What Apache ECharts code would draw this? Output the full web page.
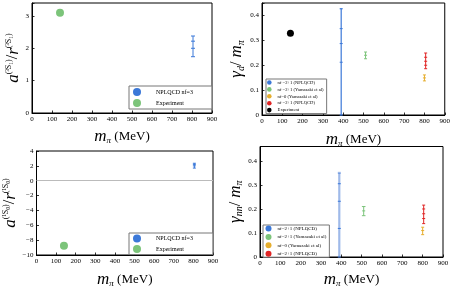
<!DOCTYPE html>
<html><head><meta charset="utf-8">
<script src="https://cdn.jsdelivr.net/npm/echarts@6/dist/echarts.min.js"></script>
<style>html,body{margin:0;padding:0;background:#fff}#c{width:453px;height:289px}</style>
</head><body><div id="c"></div>
<script>
// ---- data ----
const xTickStep = 100; // m_pi ticks 0..900
// Panel 1: a(3S1)/r(3S1)
const p1Exp = [[140, 3.1]];
const p1Lat = [[805, 1.74, 2.38]];            // x, low, high
const p1LatMarks = [[805, 2.22], [805, 2.0]];
// Panel 2: gamma_d / m_pi
const p2Exp = [[140, 0.328]];
const p2NplBlue = [[390, 0, 0.427]];
const p2NplBlueMarks = [[390, 0.347], [390, 0.287], [390, 0.212]];
const p2Yam21 = [[510, 0.226, 0.253]];
const p2Yam21Marks = [[510, 0.24]];
const p2Yam0 = [[800, 0.137, 0.161]];
const p2Yam0Marks = [[800, 0.149]];
const p2NplRed = [[806, 0.186, 0.249]];
const p2NplRedMarks = [[806, 0.232], [806, 0.216], [806, 0.2]];
// Panel 3: a(1S0)/r(1S0)
const p3Exp = [[140, -8.75]];
const p3Lat = [[805, 1.7, 2.35]];
const p3LatMarks = [[805, 2.2], [805, 2.0]];
// Panel 4: gamma_nn / m_pi
const p4NplBlue = [[390, 0, 0.35]];
const p4NplBlueMarks = [[390, 0.305], [390, 0.232], [390, 0.119]];
const p4Yam21 = [[510, 0.172, 0.21]];
const p4Yam21Marks = [[510, 0.192]];
const p4Yam0 = [[800, 0.093, 0.124]];
const p4Yam0Marks = [[800, 0.11]];
const p4NplRed = [[805, 0.139, 0.216]];
const p4NplRedMarks = [[805, 0.2], [805, 0.18], [805, 0.16]];

const BLUE = '#3b78d8', GREEN = '#7cc47a', ORANGE = '#e6ae2e', RED = '#e02424', BLACK = '#000';
const SERIF = 'Liberation Serif';

function errBar(capW, lw) {
  return function (params, api) {
    const x = api.value(0), lo = api.value(1), hi = api.value(2);
    const a = api.coord([x, lo]), b = api.coord([x, hi]);
    const st = { stroke: api.visual('color'), lineWidth: lw };
    return { type: 'group', children: [
      { type: 'line', shape: { x1: a[0], y1: a[1], x2: b[0], y2: b[1] }, style: st },
      { type: 'line', shape: { x1: a[0] - capW, y1: a[1], x2: a[0] + capW, y2: a[1] }, style: st },
      { type: 'line', shape: { x1: b[0] - capW, y1: b[1], x2: b[0] + capW, y2: b[1] }, style: st }
    ] };
  };
}
function markTick(capW, lw) {
  return function (params, api) {
    const p = api.coord([api.value(0), api.value(1)]);
    return { type: 'line', shape: { x1: p[0] - capW, y1: p[1], x2: p[0] + capW, y2: p[1] },
      style: { stroke: api.visual('color'), lineWidth: lw } };
  };
}
function bars(name, idx, data, color, lw, cap) {
  return { name, type: 'custom', xAxisIndex: idx, yAxisIndex: idx, data, itemStyle: { color },
    renderItem: errBar(cap || 2, lw || 1), encode: { x: 0, y: [1, 2] }, silent: true };
}
function marks(name, idx, data, color, lw, cap) {
  return { name, type: 'custom', xAxisIndex: idx, yAxisIndex: idx, data, itemStyle: { color },
    renderItem: markTick(cap || 2, lw || 1), encode: { x: 0, y: 1 }, silent: true };
}
function dot(name, idx, data, color, size) {
  return { name, type: 'scatter', xAxisIndex: idx, yAxisIndex: idx, data, symbolSize: size,
    itemStyle: { color, opacity: 1 }, silent: true };
}
function fmtTicks(step, minus) {
  return function (v) {
    const k = v / step;
    if (Math.abs(k - Math.round(k)) > 1e-6) return '';
    let r = Math.round(k) * step;
    r = +r.toFixed(6);
    let s = String(r);
    if (minus) s = s.replace('-', '\u2212');
    return s;
  };
}
const xName = '{m|m}{s|π} {t|(MeV)}';
const xRich = {
  m: { fontFamily: SERIF, fontStyle: 'italic', fontSize: 17, color: '#000' },
  s: { fontFamily: SERIF, fontStyle: 'italic', fontSize: 9, color: '#000', verticalAlign: 'bottom', padding: [8, 0, 0, 0] },
  t: { fontFamily: SERIF, fontSize: 13, color: '#000' }
};
const yRich = {
  i: { fontFamily: SERIF, fontStyle: 'italic', fontSize: 17, color: '#000' },
  u: { fontFamily: SERIF, fontSize: 16, color: '#000' },
  p: { fontFamily: SERIF, fontSize: 8, color: '#000', verticalAlign: 'top', padding: [0, 0, 8, 0] },
  b: { fontFamily: SERIF, fontStyle: 'italic', fontSize: 10, color: '#000', verticalAlign: 'bottom', padding: [8, 0, 0, 0] }
};
function xAxis(idx, gap) {
  return { type: 'value', gridIndex: idx, min: 0, max: 900, interval: xTickStep,
    name: xName, nameLocation: 'middle', nameGap: gap, nameTextStyle: { rich: xRich },
    axisLine: { show: true, onZero: false, lineStyle: { color: '#000', width: 1 } },
    axisTick: { show: true, inside: true, length: 2.5, lineStyle: { color: '#000', width: 0.8 } },
    axisLabel: { fontFamily: SERIF, fontSize: 7, color: '#000', margin: 3, formatter: fmtTicks(100) },
    splitLine: { show: false } };
}
function yAxis(idx, min, max, step, name, gap, minus) {
  return { type: 'value', gridIndex: idx, min, max, interval: step,
    name, nameLocation: 'middle', nameGap: gap, nameTextStyle: { rich: yRich },
    axisLine: { show: true, onZero: false, lineStyle: { color: '#000', width: 1 } },
    axisTick: { show: true, inside: true, length: 2.5, lineStyle: { color: '#000', width: 0.8 } },
    axisLabel: { fontFamily: SERIF, fontSize: 7, color: '#000', margin: 3, formatter: fmtTicks(step, minus) },
    splitLine: { show: false } };
}
function legend(names, colors, pos, size, font, gap, pad, textPad) {
  return Object.assign({
    orient: 'vertical', icon: 'circle', itemWidth: size, itemHeight: size, itemGap: gap,
    padding: pad, backgroundColor: '#fff', borderColor: '#777', borderWidth: 1, borderRadius: 0,
    selectedMode: false,
    data: names.map((n, i) => ({ name: n, icon: 'circle', itemStyle: { color: colors[i] } })),
    formatter: n => '{a|' + n.split('|')[1] + '}',
    textStyle: { rich: { a: { fontFamily: SERIF, fontSize: font, color: '#000', padding: [0, 0, 0, textPad] } } }
  }, pos);
}

const N1a = 'p1|NPLQCD nf=3', N1b = 'p1|Experiment';
const N2 = ['p2|nf =2+1 (NPLQCD)', 'p2|nf =2+1 (Yamazaki et al)', 'p2|nf=0 (Yamazaki et al)', 'p2|nf =2+1 (NPLQCD)|r', 'p2|Experiment'];
const N3a = 'p3|NPLQCD nf=3', N3b = 'p3|Experiment';
const N4 = ['p4|nf=2+1 (NPLQCD)', 'p4|nf=2+1 (Yamazaki et al)', 'p4|nf=0 (Yamazaki et al)', 'p4|nf=2+1 (NPLQCD)|r'];

const option = {
  animation: false,
  grid: [
    { left: 32, top: 3, width: 180, height: 110, show: true, borderColor: '#000', borderWidth: 1 },
    { left: 262, top: 3, width: 184, height: 112, show: true, borderColor: '#000', borderWidth: 1 },
    { left: 36.5, top: 151, width: 176.5, height: 109, show: true, borderColor: '#000', borderWidth: 1 },
    { left: 260, top: 146.5, width: 183, height: 116, show: true, borderColor: '#000', borderWidth: 1 }
  ],
  xAxis: [xAxis(0, 15), xAxis(1, 16), xAxis(2, 16), xAxis(3, 14)],
  yAxis: [
    yAxis(0, 0, 3.4, 1, '{i|a}{p|(³S₁)}{u|/}{i|r}{p|(³S₁)}', 10),
    yAxis(1, 0, 0.45, 0.1, '{i|γ}{b|d}{u|/ }{i|m}{b|π}', 16),
    yAxis(2, -10, 4, 2, '{i|a}{p|(¹S₀)}{u|/}{i|r}{p|(¹S₀)}', 13, true),
    yAxis(3, 0, 0.46, 0.1, '{i|γ}{b|nn}{u|/ }{i|m}{b|π}', 14)
  ],
  legend: [
    legend([N1a, N1b], [BLUE, GREEN], { left: 129, top: 86 }, 8, 6, 3, [2, 19, 2, 4], 10),
    legend(N2, [BLUE, GREEN, ORANGE, RED, BLACK], { left: 266, top: 79 }, 4.6, 4.6, 1.9, [1, 3, 1, 1], 1),
    legend([N3a, N3b], [BLUE, GREEN], { left: 129, top: 233 }, 8, 6, 2.6, [1.5, 20, 1.5, 4], 10),
    legend(N4, [BLUE, GREEN, ORANGE, RED], { left: 263, top: 225 }, 6, 5, 2.4, [0.5, 3, 0.5, 2.5], 1)
  ],
  series: [
    dot(N1b, 0, p1Exp, GREEN, 8),
    bars(N1a, 0, p1Lat, BLUE, 1, 2),
    marks(N1a, 0, p1LatMarks, BLUE, 1, 2),

    dot(N2[4], 1, p2Exp, BLACK, 7),
    bars(N2[0], 1, p2NplBlue, BLUE, 1.2, 1.5),
    marks(N2[0], 1, p2NplBlueMarks, BLUE, 1, 1.5),
    bars(N2[1], 1, p2Yam21, GREEN, 1, 1.5),
    marks(N2[1], 1, p2Yam21Marks, GREEN, 1, 1.5),
    bars(N2[2], 1, p2Yam0, ORANGE, 1, 1.5),
    marks(N2[2], 1, p2Yam0Marks, ORANGE, 1, 1.5),
    bars(N2[3], 1, p2NplRed, RED, 1, 1.5),
    marks(N2[3], 1, p2NplRedMarks, RED, 1, 1.5),

    dot(N3b, 2, p3Exp, GREEN, 8),
    bars(N3a, 2, p3Lat, BLUE, 1, 1.5),
    marks(N3a, 2, p3LatMarks, BLUE, 1, 1.5),
    { type: 'line', xAxisIndex: 2, yAxisIndex: 2, data: [], silent: true,
      markLine: { silent: true, symbol: 'none', label: { show: false },
        lineStyle: { color: '#bbb', width: 1, type: 'solid' }, data: [{ yAxis: 0 }] } },

    bars(N4[0], 3, p4NplBlue, 'rgba(80,130,215,0.55)', 2.2, 1.5),
    marks(N4[0], 3, p4NplBlueMarks, BLUE, 1, 1.5),
    bars(N4[1], 3, p4Yam21, GREEN, 1, 1.8),
    marks(N4[1], 3, p4Yam21Marks, GREEN, 1, 1.5),
    bars(N4[2], 3, p4Yam0, ORANGE, 1, 1.5),
    marks(N4[2], 3, p4Yam0Marks, ORANGE, 1, 1.5),
    bars(N4[3], 3, p4NplRed, RED, 1, 1.5),
    marks(N4[3], 3, p4NplRedMarks, RED, 1, 1.5)
  ]
};
const chart = echarts.init(document.getElementById('c'), null, { renderer: 'canvas' });
chart.setOption(option);
</script></body></html>
